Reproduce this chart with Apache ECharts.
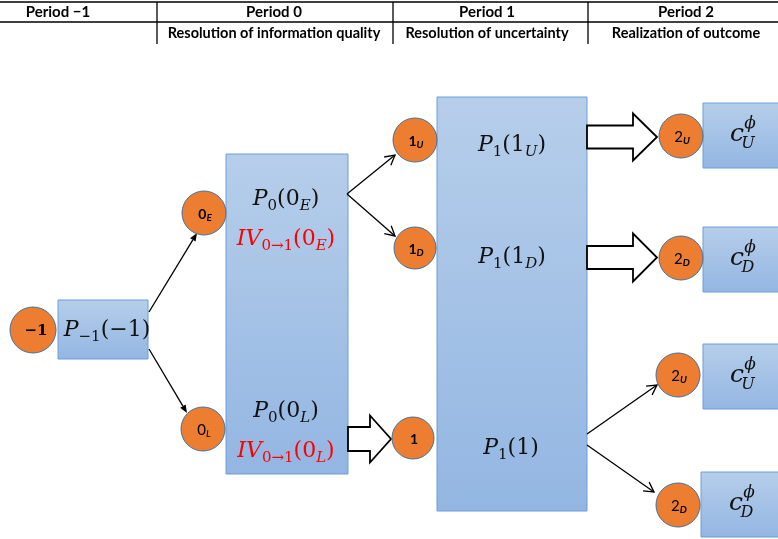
<!DOCTYPE html>
<html><head><meta charset="utf-8">
<script src="https://cdn.jsdelivr.net/npm/echarts@6/dist/echarts.min.js"></script>
<style>html,body{margin:0;padding:0;background:#fff}#c{width:778px;height:539px}</style>
</head><body><div id="c"></div>
<script>
// ---- diagram content (diagram units = pixels of a 778x539 canvas) ----
const periodLabels = ['Period −1', 'Period 0', 'Period 1', 'Period 2'];
const stageLabels = ['', 'Resolution of information quality', 'Resolution of uncertainty', 'Realization of outcome'];
const columnCenters = [58, 274, 487, 686];
const columnDividers = [157, 393, 588];
const headerRules = [2, 22];

const boxes = [[58,300,148,359],[226,154,348,474],[437,97,587,511],[703,103,792,168],[703,227,792,292],[703,344,792,409],[701,472,792,537]];
const nodes = [[33,330,23],[204,213,22],[203,429,22],[415,140,22],[415,248,21],[413,438,21],[681,136,22],[681,258,22],[678,375,22],[678,505,22]];
const nodeLabels = ['{bl|−1}','{b|0}{bs|E}','{n|0}{ns|L}','{b|1}{bs|U}','{b|1}{bs|D}','{b|1}','{n|2}{bs|U}','{n|2}{bs|D}','{n|2}{bs|U}','{n|2}{bs|D}'];
const lineArrows = [[149,312,197,233],[149,349,187,413],[347,194,395,155],[347,194,395,236],[587,434,657,385],[587,445,654,492]];
const lineArrowHeads = ['fill','fill','open','open','open','open'];
const blockArrows = [[587,633,657,137,11.5,23.5],[587,633,657,257.5,11.5,24],[348,370,391,439,12,23.5]];
const formulaPositions = [[107,330],[286,199],[286,239],[286,411],[286,451],[512,145],[512,257],[511,448]];
const formulaTexts = [
  '{mi|P}{su|−1}{mu|(−1)}',
  '{mi|P}{su|0}{mu|(0}{si|E}{mu|)}',
  '{ri|IV}{rsu|0→1}{ru|(0}{rsi|E}{ru|)}',
  '{mi|P}{su|0}{mu|(0}{si|L}{mu|)}',
  '{ri|IV}{rsu|0→1}{ru|(0}{rsi|L}{ru|)}',
  '{mi|P}{su|1}{mu|(1}{si|U}{mu|)}',
  '{mi|P}{su|1}{mu|(1}{si|D}{mu|)}',
  '{mi|P}{su|1}{mu|(1)}'
];
const outcomePositions = [[738,136],[738,260],[738,377],[737,505]];
const outcomeSubs = ['U','D','U','D'];

// ---- styles ----
const MATH = "'DejaVu Serif', serif";
const SANS = "Lato, 'Noto Sans', sans-serif";
function mk(size, italic, color, lh, va) {
  return {fontFamily: MATH, fontSize: size, fontStyle: italic ? 'italic' : 'normal', fill: color, lineHeight: lh, verticalAlign: va};
}
const richMath = {
  mi: mk(22, true, '#111', 29, 'middle'), mu: mk(22, false, '#111', 29, 'middle'),
  si: mk(15, true, '#111', 15, 'bottom'), su: mk(15, false, '#111', 15, 'bottom'),
  ri: mk(22, true, '#ff0000', 29, 'middle'), ru: mk(22, false, '#ff0000', 29, 'middle'),
  rsi: mk(15, true, '#ff0000', 15, 'bottom'), rsu: mk(15, false, '#ff0000', 15, 'bottom')
};
const richNode = {
  bl: {fontFamily: MATH, fontWeight: 'bold', fontSize: 15, fill: '#000', lineHeight: 18, verticalAlign: 'middle'},
  b: {fontFamily: SANS, fontWeight: 'bold', fontSize: 14, fill: '#000', lineHeight: 17, verticalAlign: 'middle'},
  n: {fontFamily: SANS, fontWeight: 'normal', fontSize: 15, fill: '#000', lineHeight: 17, verticalAlign: 'middle'},
  bs: {fontFamily: SANS, fontWeight: 'bold', fontStyle: 'italic', fontSize: 10, fill: '#000', lineHeight: 11, verticalAlign: 'bottom'},
  ns: {fontFamily: SANS, fontWeight: 'normal', fontStyle: 'italic', fontSize: 10, fill: '#000', lineHeight: 11, verticalAlign: 'bottom'}
};

const chart = echarts.init(document.getElementById('c'));
function len(api, d) { return api.size([d, 0])[0]; }

const series = [
  { // header rules
    type: 'custom', data: headerRules.map(y => [0, y]), silent: true,
    renderItem: (p, api) => {
      const a = api.coord([0, api.value(1)]), b = api.coord([778, api.value(1)]);
      return {type: 'line', shape: {x1: a[0], y1: a[1], x2: b[0], y2: b[1]}, style: {stroke: '#000', lineWidth: 1.3}};
    }
  },
  { // header dividers
    type: 'custom', data: columnDividers.map(x => [x, 2]), silent: true,
    renderItem: (p, api) => {
      const a = api.coord([api.value(0), 2]), b = api.coord([api.value(0), 44]);
      return {type: 'line', shape: {x1: a[0], y1: a[1], x2: b[0], y2: b[1]}, style: {stroke: '#000', lineWidth: 1.3}};
    }
  },
  { // header texts
    type: 'custom', data: columnCenters.map(x => [x, 12]), silent: true,
    renderItem: (p, api) => {
      const a = api.coord([api.value(0), 12.5]), b = api.coord([api.value(0), 33.5]);
      return {type: 'group', children: [
        {type: 'text', style: {text: periodLabels[p.dataIndex], x: a[0], y: a[1], align: 'center', verticalAlign: 'middle', fontFamily: SANS, fontWeight: 'bold', fontSize: 15, fill: '#000'}},
        {type: 'text', style: {text: stageLabels[p.dataIndex], x: b[0], y: b[1], align: 'center', verticalAlign: 'middle', fontFamily: SANS, fontWeight: 'bold', fontSize: 14.5, fill: '#000'}}
      ]};
    }
  },
  { // boxes
    type: 'custom', data: boxes, silent: true, encode: {x: [0, 2], y: [1, 3]},
    renderItem: (p, api) => {
      const a = api.coord([api.value(0), api.value(1)]), b = api.coord([api.value(2), api.value(3)]);
      return {type: 'rect', shape: {x: a[0], y: a[1], width: b[0] - a[0], height: b[1] - a[1]},
        style: {fill: new echarts.graphic.LinearGradient(0, 0, 0, 1, [{offset: 0, color: '#b6ceea'}, {offset: 1, color: '#93b6e2'}]), stroke: '#6c9ed8', lineWidth: 1}};
    }
  },
  { // block arrows
    type: 'custom', data: blockArrows, silent: true,
    renderItem: (p, api) => {
      const x0 = api.value(0), xh = api.value(1), x1 = api.value(2), yc = api.value(3), hs = api.value(4), hh = api.value(5);
      const pts = [[x0, yc - hs], [xh, yc - hs], [xh, yc - hh], [x1, yc], [xh, yc + hh], [xh, yc + hs], [x0, yc + hs]].map(q => api.coord(q));
      return {type: 'polygon', shape: {points: pts}, style: {fill: '#fff', stroke: '#000', lineWidth: 1.8, lineJoin: 'miter'}};
    }
  },
  { // line arrows
    type: 'custom', data: lineArrows, silent: true,
    renderItem: (p, api) => {
      const a = api.coord([api.value(0), api.value(1)]), b = api.coord([api.value(2), api.value(3)]);
      const ang = Math.atan2(b[1] - a[1], b[0] - a[0]);
      const kind = lineArrowHeads[p.dataIndex];
      const children = [];
      if (kind === 'fill') {
        const L = len(api, 8), W = len(api, 3.2);
        const bx = b[0] - L * Math.cos(ang), by = b[1] - L * Math.sin(ang);
        children.push({type: 'line', shape: {x1: a[0], y1: a[1], x2: bx, y2: by}, style: {stroke: '#000', lineWidth: 1.3}});
        children.push({type: 'polygon', shape: {points: [[b[0], b[1]], [bx + W * Math.sin(ang), by - W * Math.cos(ang)], [bx - W * Math.sin(ang), by + W * Math.cos(ang)]]}, style: {fill: '#000'}});
      } else {
        const L = len(api, 11), s = 0.5;
        children.push({type: 'line', shape: {x1: a[0], y1: a[1], x2: b[0], y2: b[1]}, style: {stroke: '#000', lineWidth: 1.3}});
        children.push({type: 'polyline', shape: {points: [[b[0] - L * Math.cos(ang - s), b[1] - L * Math.sin(ang - s)], [b[0], b[1]], [b[0] - L * Math.cos(ang + s), b[1] - L * Math.sin(ang + s)]]}, style: {stroke: '#000', lineWidth: 1.3, fill: null}});
      }
      return {type: 'group', children};
    }
  },
  { // nodes
    type: 'custom', data: nodes, silent: true,
    renderItem: (p, api) => {
      const c = api.coord([api.value(0), api.value(1)]), r = len(api, api.value(2));
      const dx = p.dataIndex === 0 ? 3 : 1;
      return {type: 'group', children: [
        {type: 'circle', shape: {cx: c[0], cy: c[1], r: r}, style: {fill: '#ed7d31', stroke: '#41719c', lineWidth: 1}},
        {type: 'text', style: {text: nodeLabels[p.dataIndex], x: c[0] + dx, y: c[1] + 1, align: 'center', verticalAlign: 'middle', rich: richNode}}
      ]};
    }
  },
  { // formulas in boxes
    type: 'custom', data: formulaPositions, silent: true,
    renderItem: (p, api) => {
      const c = api.coord([api.value(0), api.value(1)]);
      return {type: 'text', style: {text: formulaTexts[p.dataIndex], x: c[0], y: c[1], align: 'center', verticalAlign: 'middle', rich: richMath}};
    }
  },
  { // outcome labels c^phi_X
    type: 'custom', data: outcomePositions, silent: true,
    renderItem: (p, api) => {
      const c = api.coord([api.value(0), api.value(1)]);
      const f = (t, x, y, s) => ({type: 'text', style: {text: t, x: x, y: y, align: 'center', verticalAlign: 'middle', fontFamily: MATH, fontStyle: 'italic', fontSize: s, fill: '#111'}});
      return {type: 'group', children: [
        f('c', c[0] - 1, c[1] - 2, 25),
        f('ϕ', c[0] + 12, c[1] - 12, 17),
        f(outcomeSubs[p.dataIndex], c[0] + 10, c[1] + 8, 16)
      ]};
    }
  }
];

chart.setOption({
  animation: false,
  grid: {left: 0, right: 0, top: 0, bottom: 0},
  xAxis: {type: 'value', min: 0, max: 778, show: false},
  yAxis: {type: 'value', min: 0, max: 539, inverse: true, show: false},
  series: series
});
</script></body></html>
